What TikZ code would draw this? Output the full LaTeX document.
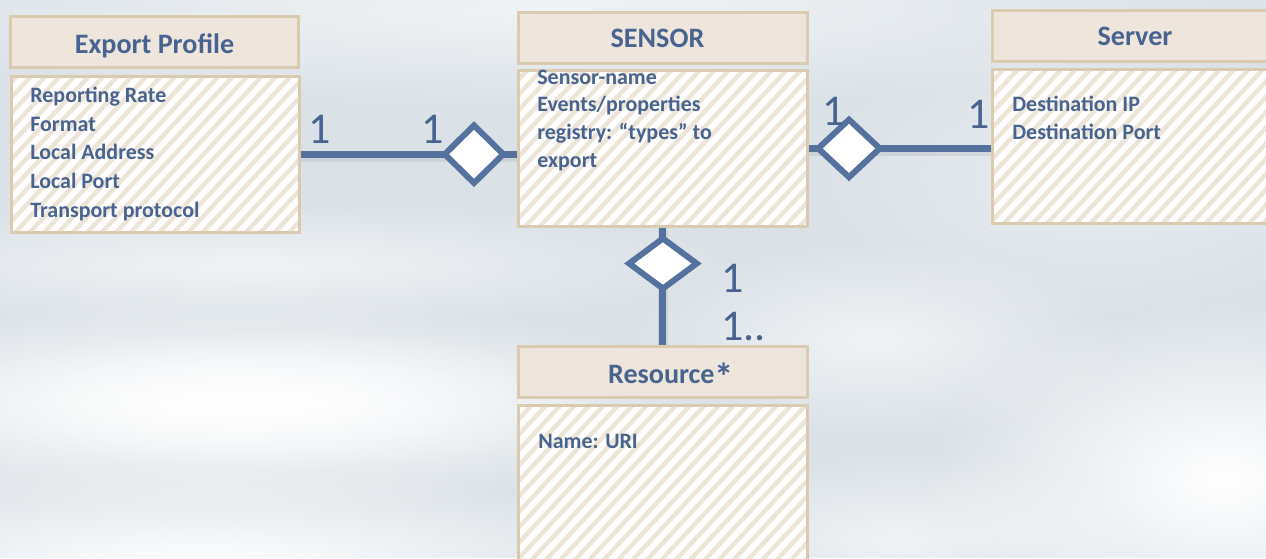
\documentclass[tikz,border=0pt]{standalone}
\usepackage{fontspec}
\setmainfont{Carlito}
\usetikzlibrary{shapes.geometric,patterns.meta,fadings}

\definecolor{umlblue}{HTML}{55729E}
\definecolor{umltext}{HTML}{48638F}
\definecolor{hdrfill}{HTML}{EEE6DD}
\definecolor{hdrline}{HTML}{D9CAB0}
\definecolor{hatch}{HTML}{EDE4D8}
\definecolor{sky}{HTML}{DAE1E7}

\pgfdeclarelayer{backdrop}
\pgfdeclarelayer{edges}
\pgfsetlayers{backdrop,edges,main}

\tikzfading[name=haze, inner color=transparent!0, outer color=transparent!100]

\begin{document}
\begin{tikzpicture}[
    hdr/.style={draw=hdrline, fill=hdrfill, line width=1.6pt, anchor=north west,
      minimum height=1.02cm, inner sep=0pt},
    body/.style={draw=hdrline, line width=1.6pt, anchor=north west, inner sep=0pt,
      preaction={fill=white},
      pattern={Lines[angle=47,distance=6pt,line width=2.5pt]}, pattern color=hatch},
    title/.style={anchor=base, inner sep=0pt, text=umltext,
      font=\fontsize{16}{19}\selectfont\bfseries},
    attr/.style={anchor=base west, align=left, inner sep=0pt, text=umltext,
      font=\fontsize{12.5}{16.3}\selectfont\bfseries},
    mult/.style={anchor=base west, inner sep=0pt, text=umltext,
      font=\fontsize{25}{30}\selectfont},
    agg/.style={diamond, draw=umlblue, fill=white, line width=3.4pt, inner sep=0pt},
    link/.style={draw=umlblue, line width=4pt,
      preaction={draw=black!60, opacity=.12, line width=6pt,
        transform canvas={yshift=-1.5pt}}},
    cloud/.style={fill=white, path fading=haze}
  ]
  \useasboundingbox (0,0) rectangle (25.32,-11.16);

  % Cloudy backdrop
  \begin{pgfonlayer}{backdrop}
    \fill[sky] (0,0) rectangle (25.32,-11.16);
    \fill[cloud, opacity=.6] (11,-0.2) ellipse (16cm and 2cm);
    \fill[cloud, opacity=.4] (22,-3.5) ellipse (6cm and 3cm);
    \fill[cloud, opacity=.6] (5,-5.3) ellipse (10cm and 1.3cm);
    \fill[cloud] (4.5,-8.1) ellipse (10cm and 2.2cm);
    \fill[cloud, opacity=.8] (5.5,-8.0) ellipse (7cm and 1.4cm);
    \fill[cloud] (4,-11.3) ellipse (10cm and 2cm);
    \fill[cloud, opacity=.6] (17.5,-6.8) ellipse (5cm and 2cm);
    \fill[cloud] (24.5,-9.6) ellipse (6cm and 3.6cm);
    \fill[cloud, opacity=.6] (18,-10.8) ellipse (5cm and 1.8cm);
  \end{pgfonlayer}

  % Export Profile
  \node[hdr, minimum width=5.76cm] (ephdr) at (0.18,-0.30) {};
  \node[body, minimum width=5.76cm, minimum height=3.12cm] (epbody) at (0.18,-1.48) {};
  \node[title] (eptitle) at (3.09,-1.06) {Export Profile};
  \node[attr] (epattr) at (0.60,-4.34)
    {Reporting Rate\\Format\\Local Address\\Local Port\\Transport protocol};

  % SENSOR
  \node[hdr, minimum width=5.78cm] (snhdr) at (10.34,-0.22) {};
  \node[body, minimum width=5.78cm, minimum height=3.12cm] (snbody) at (10.34,-1.38) {};
  \node[title] (sntitle) at (13.15,-0.94) {SENSOR};
  \node[attr, font=\fontsize{12.5}{15.7}\selectfont\bfseries] (snattr) at (10.74,-3.34)
    {Sensor-name\\Events/properties\\registry: “types” to\\export};

  % Server
  \node[hdr, minimum width=5.8cm] (svhdr) at (19.82,-0.18) {};
  \node[body, minimum width=5.8cm, minimum height=3.08cm] (svbody) at (19.82,-1.36) {};
  \node[title] (svtitle) at (22.70,-0.90) {Server};
  \node[attr, font=\fontsize{12.5}{15.9}\selectfont\bfseries] (svattr) at (20.24,-2.78)
    {Destination IP\\Destination Port};

  % Resource
  \node[hdr, minimum width=5.78cm] (rshdr) at (10.34,-6.90) {};
  \node[body, minimum width=5.78cm, minimum height=3.4cm] (rsbody) at (10.34,-8.08) {};
  \node[title] (rstitle) at (13.42,-7.66)
    {Resource\raisebox{-4pt}{\fontsize{22}{22}\selectfont*}};
  \node[attr] (rsattr) at (10.76,-8.96) {Name: URI};

  % Aggregation diamonds
  \node[agg, minimum width=1.22cm, minimum height=1.20cm] (lagg) at (9.48,0 |- epbody.east) {};
  \node[agg, minimum width=1.28cm, minimum height=1.20cm] (ragg) at (16.98,0 |- snbody.east) {};
  \node[agg, minimum width=1.40cm, minimum height=1.05cm] (bagg) at (snbody.south |- 0,-5.27) {};

  % Associations, kept under the diamonds
  \begin{pgfonlayer}{edges}
    \draw[link] (epbody.east) -- (lagg.center);
    \draw[link] (lagg.center) -- (lagg.center -| snbody.west);
    \draw[link] (snbody.east) -- (ragg.center);
    \draw[link] (ragg.center) -- (ragg.center -| svbody.west);
    \draw[link] (snbody.south) -- (bagg.center);
    \draw[link] (bagg.center) -- (bagg.center |- rshdr.north);
  \end{pgfonlayer}

  % Multiplicities
  \node[mult] (m1) at (6.16,-2.86) {1};
  \node[mult] (m2) at (8.42,-2.86) {1};
  \node[mult] (m3) at (16.44,-2.50) {1};
  \node[mult] (m4) at (19.34,-2.56) {1};
  \node[mult] (m5) at (14.42,-5.84) {1};
  \node[mult] (m6) at (14.42,-6.80) {1..};
\end{tikzpicture}
\end{document}
